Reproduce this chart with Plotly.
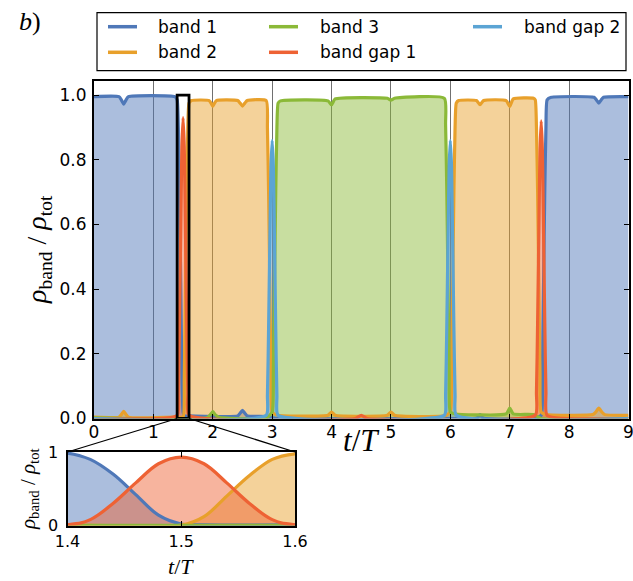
import plotly.graph_objects as go

W, H = 633, 581

# ---- populations of each band versus time t/T ----
t_band1 = [0.00, 0.42, 0.46, 0.50, 0.54, 0.58, 1.36, 1.40, 1.42, 1.44, 1.46, 1.48, 1.50, 1.52,
           1.60, 2.42, 2.46, 2.50, 2.54, 2.58, 2.90, 3.00, 3.10, 6.00, 6.45, 6.50, 6.55, 7.40,
           7.53, 7.55, 7.57, 7.59, 7.61, 7.63, 7.70, 8.42, 8.46, 8.50, 8.54, 8.58, 9.00]
band1 = [0.995, 0.995, 0.985, 0.972, 0.985, 0.995, 0.995, 0.985, 0.90, 0.70, 0.42, 0.14, 0.02, 0.008,
         0.008, 0.008, 0.016, 0.025, 0.016, 0.008, 0.006, 0.002, 0.0, 0.0, 0.002, 0.012, 0.002, 0.0,
         0.01, 0.14, 0.42, 0.70, 0.90, 0.985, 0.993, 0.993, 0.985, 0.975, 0.985, 0.993, 0.995]

t_band2 = [0.00, 0.42, 0.46, 0.50, 0.54, 0.58, 1.40, 1.50, 1.52, 1.54, 1.56, 1.58, 1.60, 1.64,
           1.94, 1.98, 2.00, 2.02, 2.06, 2.42, 2.46, 2.50, 2.54, 2.58, 2.90, 2.92, 2.94, 2.96,
           2.98, 3.00, 3.10, 3.94, 4.00, 4.06, 4.94, 5.00, 5.06, 5.90, 6.00, 6.02, 6.04, 6.06,
           6.08, 6.10, 6.14, 6.44, 6.50, 6.56, 6.94, 7.00, 7.06, 7.40, 7.43, 7.45, 7.47, 7.49,
           7.51, 7.53, 7.63, 8.40, 8.45, 8.50, 8.55, 8.60, 9.00]
band2 = [0.004, 0.004, 0.012, 0.022, 0.012, 0.004, 0.004, 0.005, 0.12, 0.40, 0.68, 0.90, 0.975, 0.983,
         0.983, 0.972, 0.966, 0.972, 0.983, 0.983, 0.975, 0.966, 0.975, 0.983, 0.983, 0.90, 0.70, 0.42,
         0.14, 0.02, 0.01, 0.01, 0.02, 0.01, 0.01, 0.02, 0.01, 0.008, 0.02, 0.14, 0.42, 0.70,
         0.90, 0.975, 0.983, 0.983, 0.97, 0.983, 0.983, 0.965, 0.988, 0.99, 0.985, 0.90, 0.70, 0.42,
         0.14, 0.02, 0.012, 0.012, 0.02, 0.032, 0.02, 0.012, 0.01]

t_band3 = [0.00, 1.90, 1.96, 2.00, 2.04, 2.10, 2.90, 3.00, 3.02, 3.04, 3.06, 3.08, 3.10, 3.14,
           3.94, 4.00, 4.06, 4.94, 5.00, 5.06, 5.90, 5.92, 5.94, 5.96, 5.98, 6.00, 6.10, 6.94,
           7.00, 7.06, 7.40, 7.53, 9.00]
band3 = [0.002, 0.002, 0.012, 0.021, 0.012, 0.004, 0.002, 0.02, 0.14, 0.42, 0.70, 0.90, 0.975, 0.982,
         0.982, 0.97, 0.988, 0.99, 0.984, 0.99, 0.99, 0.91, 0.71, 0.43, 0.15, 0.02, 0.014, 0.014,
         0.032, 0.014, 0.012, 0.0, 0.0]

t_gap1 = [0.00, 1.40, 1.42, 1.44, 1.46, 1.48, 1.50, 1.52, 1.54, 1.56, 1.58, 1.60, 4.40, 4.50,
          4.60, 7.43, 7.45, 7.47, 7.49, 7.51, 7.53, 7.55, 7.57, 7.59, 7.61, 7.63, 9.00]
gap1 = [0.0, 0.01, 0.08, 0.30, 0.58, 0.84, 0.93, 0.84, 0.58, 0.30, 0.08, 0.01, 0.0, 0.01,
        0.0, 0.01, 0.08, 0.30, 0.57, 0.83, 0.92, 0.83, 0.57, 0.30, 0.08, 0.01, 0.0]

t_gap2 = [0.00, 2.90, 2.92, 2.94, 2.96, 2.98, 3.00, 3.02, 3.04, 3.06, 3.08, 3.10, 5.90, 5.92,
          5.94, 5.96, 5.98, 6.00, 6.02, 6.04, 6.06, 6.08, 6.10, 9.00]
gap2 = [0.0, 0.01, 0.07, 0.28, 0.54, 0.78, 0.86, 0.78, 0.54, 0.28, 0.07, 0.01, 0.01, 0.07,
        0.28, 0.54, 0.78, 0.86, 0.78, 0.54, 0.28, 0.07, 0.01, 0.0]

series_names = ["band 1", "band 2", "band 3", "band gap 1", "band gap 2"]
series_t = [t_band1, t_band2, t_band3, t_gap1, t_gap2]
series_v = [band1, band2, band3, gap1, gap2]
line_colors = ["#4f78b8", "#e8a02b", "#8bb938", "#ee6234", "#5ba4d4"]

x_ticks = [0, 1, 2, 3, 4, 5, 6, 7, 8, 9]
y_ticks = [0.0, 0.2, 0.4, 0.6, 0.8, 1.0]
y_ticktext = ["0.0", "0.2", "0.4", "0.6", "0.8", "1.0"]
inset_x_ticks = [1.4, 1.5, 1.6]
inset_x_ticktext = ["1.4", "1.5", "1.6"]
inset_y_ticks = [0, 1]
inset_y_ticktext = ["0", "1"]
zoom_window = [1.4, 1.6]

# ---- geometry (pixels) ----
main_px = dict(x=[94, 628.5], y=[80.5, 418.5])
inset_px = dict(x=[67.5, 295], y=[452, 525.5])
main_range = dict(x=[0, 9], y=[0, 1.045])
inset_range = dict(x=zoom_window, y=[0, 1])


def dom_x(p):
    return [p[0] / W, p[1] / W]


def dom_y(p):
    return [1 - p[1] / H, 1 - p[0] / H]


def to_paper(px, rng, xv, yv):
    xd, yd = dom_x(px["x"]), dom_y(px["y"])
    xp = xd[0] + (xv - rng["x"][0]) / (rng["x"][1] - rng["x"][0]) * (xd[1] - xd[0])
    yp = yd[0] + (yv - rng["y"][0]) / (rng["y"][1] - rng["y"][0]) * (yd[1] - yd[0])
    return xp, yp


def rgba(hexc, a):
    h = hexc.lstrip("#")
    r, g, b = int(h[0:2], 16), int(h[2:4], 16), int(h[4:6], 16)
    return f"rgba({r},{g},{b},{a})"


fig = go.Figure()

# (x axis, y axis, line width, spline smoothing) for the main panel and the zoomed inset
panels = [("x", "y", 3.2, 0.5), ("x2", "y2", 3.2, 1.0)]
for xa, ya, lw, sm in panels:
    # shaded areas first, lines on top
    for name, tt, vv, c in zip(series_names, series_t, series_v, line_colors):
        fig.add_trace(go.Scatter(
            x=tt, y=vv, xaxis=xa, yaxis=ya, mode="lines", name=name,
            line=dict(width=0, color=c, shape="spline", smoothing=sm),
            fill="tozeroy", fillcolor=rgba(c, 0.48),
            showlegend=False, hoverinfo="skip"))
    for name, tt, vv, c in zip(series_names, series_t, series_v, line_colors):
        fig.add_trace(go.Scatter(
            x=tt, y=vv, xaxis=xa, yaxis=ya, mode="lines", name=name,
            line=dict(width=lw, color=c, shape="spline", smoothing=sm),
            showlegend=False))

tick_font = dict(family="DejaVu Sans", size=17, color="black")
inset_tick_font = dict(family="DejaVu Sans", size=16, color="black")
serif = "Liberation Serif"

fig.update_layout(
    width=W, height=H,
    margin=dict(l=0, r=0, t=0, b=0),
    paper_bgcolor="white", plot_bgcolor="rgba(0,0,0,0)",
    showlegend=False,
    xaxis=dict(domain=dom_x(main_px["x"]), range=main_range["x"], tickvals=x_ticks,
               ticks="inside", ticklen=5, tickcolor="black", showgrid=True,
               gridcolor="#707070", gridwidth=1, zeroline=False,
               showline=True, linecolor="black", linewidth=2, mirror=True,
               tickfont=tick_font, layer="above traces", automargin=False,
               anchor="y", ticklabelstandoff=-3, ticklabeloverflow="allow"),
    yaxis=dict(domain=dom_y(main_px["y"]), range=main_range["y"], tickvals=y_ticks,
               ticktext=y_ticktext, ticks="inside", ticklen=5, tickcolor="black",
               showgrid=False, zeroline=False, showline=True, linecolor="black",
               linewidth=2, mirror="ticks", tickfont=tick_font, layer="above traces",
               automargin=False, anchor="x", ticklabelstandoff=2, ticklabeloverflow="allow"),
    xaxis2=dict(domain=dom_x(inset_px["x"]), range=inset_range["x"], tickvals=inset_x_ticks,
                ticktext=inset_x_ticktext, ticks="inside", ticklen=5, tickcolor="black",
                showgrid=False, zeroline=False, showline=True, linecolor="black",
                linewidth=2, mirror="ticks", tickfont=inset_tick_font, layer="above traces",
                automargin=False, anchor="y2", ticklabelstandoff=0, ticklabeloverflow="allow"),
    yaxis2=dict(domain=dom_y(inset_px["y"]), range=inset_range["y"], tickvals=inset_y_ticks,
                ticktext=inset_y_ticktext, ticks="inside", ticklen=5, tickcolor="black",
                showgrid=False, zeroline=False, showline=True, linecolor="black",
                linewidth=2, mirror="ticks", tickfont=inset_tick_font, layer="above traces",
                automargin=False, anchor="x2", ticklabelstandoff=4, ticklabeloverflow="allow"),
)

shapes = []
# highlighted time window in the main panel
shapes.append(dict(type="rect", xref="x", yref="y", x0=zoom_window[0], x1=zoom_window[1],
                   y0=0, y1=1.0, line=dict(color="black", width=2.8), layer="above"))
# connectors from the window to the inset
for tw in zoom_window:
    x0, y0 = to_paper(main_px, main_range, tw, 0)
    x1, y1 = to_paper(inset_px, inset_range, tw, 1)
    shapes.append(dict(type="line", xref="paper", yref="paper", x0=x0, y0=y0, x1=x1, y1=y1,
                       line=dict(color="black", width=1.3), layer="above"))

# legend frame and entries
leg_box = dict(x=[97, 626], y=[12.7, 70.7])
leg_cols_line = [108, 269, 473]
leg_cols_text = [156, 318, 522]
leg_rows = [26.7, 52.3]
leg_line_len = 29
shapes.append(dict(type="rect", xref="paper", yref="paper",
                   x0=leg_box["x"][0] / W, x1=leg_box["x"][1] / W,
                   y0=1 - leg_box["y"][1] / H, y1=1 - leg_box["y"][0] / H,
                   line=dict(color="black", width=1.2), fillcolor="white", layer="above"))
annotations = []
for i, (name, c) in enumerate(zip(series_names, line_colors)):
    col, row = i // 2, i % 2
    yy = 1 - leg_rows[row] / H
    shapes.append(dict(type="line", xref="paper", yref="paper",
                       x0=leg_cols_line[col] / W, x1=(leg_cols_line[col] + leg_line_len) / W,
                       y0=yy, y1=yy, line=dict(color=c, width=3.5), layer="above"))
    annotations.append(dict(text=name, xref="paper", yref="paper", x=leg_cols_text[col] / W,
                            y=yy, xanchor="left", yanchor="middle", showarrow=False,
                            font=dict(family="DejaVu Sans", size=17, color="black")))

# axis titles and panel label
annotations += [
    dict(text="<i>t</i>/<i>T</i>", xref="paper", yref="paper", x=361 / W, y=1 - 440 / H,
         xanchor="center", yanchor="middle", showarrow=False,
         font=dict(family=serif, size=31, color="black")),
    dict(text="<i>ρ</i><sub>band</sub> / <i>ρ</i><sub>tot</sub>", xref="paper", yref="paper",
         x=38 / W, y=1 - 250 / H, xanchor="center", yanchor="middle", textangle=-90,
         showarrow=False, font=dict(family=serif, size=28, color="black")),
    dict(text="<i>t</i>/<i>T</i>", xref="paper", yref="paper", x=181 / W, y=1 - 566 / H,
         xanchor="center", yanchor="middle", showarrow=False,
         font=dict(family=serif, size=22, color="black")),
    dict(text="<i>ρ</i><sub>band</sub> / <i>ρ</i><sub>tot</sub>", xref="paper", yref="paper",
         x=29 / W, y=1 - 489 / H, xanchor="center", yanchor="middle", textangle=-90,
         showarrow=False, font=dict(family=serif, size=21, color="black")),
    dict(text="<i>b</i>)", xref="paper", yref="paper", x=30 / W, y=1 - 22 / H,
         xanchor="center", yanchor="middle", showarrow=False,
         font=dict(family=serif, size=26, color="black")),
]

fig.update_layout(shapes=shapes, annotations=annotations)
fig.write_html("out.html")
